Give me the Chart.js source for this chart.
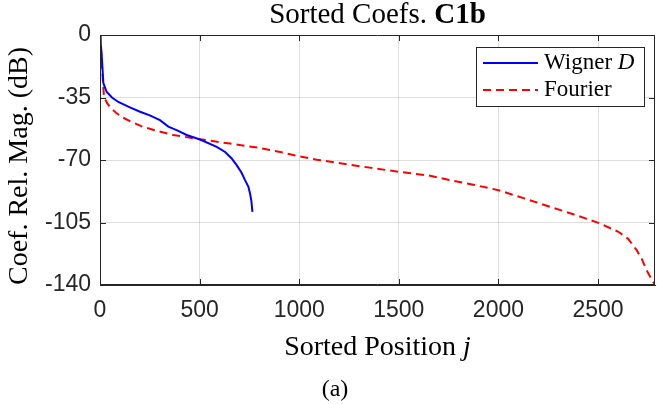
<!DOCTYPE html>
<html>
<head>
<meta charset="utf-8">
<script src="https://cdn.jsdelivr.net/npm/chart.js@4.4.0/dist/chart.umd.min.js"></script>
<style>
  body { margin: 0; background: #fff; }
  #wrap { width: 657px; height: 404px; }
</style>
</head>
<body>
<div id="wrap"><canvas id="coefchart" width="657" height="404"></canvas></div>
<script>
// sorted coefficient magnitudes
var wignerPos = [0, 3, 8, 17, 33, 60, 92, 150, 201, 250, 301, 343, 390, 435, 502, 586, 628, 660, 686, 710, 728, 745, 753, 760, 765];
var wignerDb  = [0, -4, -10.4, -27, -31.8, -35, -37.5, -40.5, -43, -45, -47.7, -51.3, -53.5, -56, -58.5, -62.6, -65.5, -69, -72.9, -77, -81.3, -85, -88.8, -93, -99];

var fourierPos = [0, 4, 8, 14, 20, 35, 50, 80, 109, 160, 217, 290, 368, 502, 653, 800, 920, 1000, 1088, 1250, 1498, 1657, 1757, 1880, 2000, 2130, 2259, 2380, 2502, 2602, 2650, 2694, 2720, 2744, 2770, 2786];
var fourierDb  = [0, -6, -14, -25, -34.7, -38, -40.3, -43.5, -45.9, -48.8, -51.5, -53.8, -56, -58.4, -60.8, -63.2, -65.9, -67.9, -69.8, -72.6, -76.6, -78.8, -81.3, -84, -86.9, -91.5, -96.2, -100.5, -105.2, -110.2, -114, -120.5, -125.5, -131.7, -137, -140];

var xTicks = [0, 500, 1000, 1500, 2000, 2500];
var yTicks = [0, -35, -70, -105, -140];
var xMax = 2786;

var serif = '"Liberation Serif", "DejaVu Serif", serif';
var sans = '"Liberation Sans", Arial, sans-serif';
var frameColor = '#262626';

function toPoints(xs, ys) {
    return xs.map(function (x, i) { return { x: x, y: ys[i] }; });
}

// draw "plain" + "styled" text as one centred string
function mixedText(ctx, parts, cx, y, size) {
    var widths = parts.map(function (p) {
        ctx.font = p[1] + ' ' + size + 'px ' + serif;
        return ctx.measureText(p[0]).width;
    });
    var total = widths.reduce(function (a, b) { return a + b; }, 0);
    var x = cx - total / 2;
    ctx.textAlign = 'left';
    parts.forEach(function (p, i) {
        ctx.font = p[1] + ' ' + size + 'px ' + serif;
        ctx.fillText(p[0], x, y);
        x += widths[i];
    });
}

// frame, inward ticks, title, axis labels, legend, caption (matlab look)
var decorations = {
    id: 'decorations',
    afterDraw: function (chart) {
        var ctx = chart.ctx;
        var a = chart.chartArea;
        var xs = chart.scales.x, ys = chart.scales.y;
        var tl = 6;
        ctx.save();

        ctx.strokeStyle = frameColor;
        ctx.lineWidth = 1;
        ctx.beginPath();
        ctx.rect(a.left + 0.5, a.top + 0.5, a.right - a.left - 1, a.bottom - a.top - 1);
        ctx.stroke();

        ctx.beginPath();
        xTicks.forEach(function (v) {
            var px = Math.round(xs.getPixelForValue(v)) + 0.5;
            ctx.moveTo(px, a.bottom); ctx.lineTo(px, a.bottom - tl);
            ctx.moveTo(px, a.top); ctx.lineTo(px, a.top + tl);
        });
        yTicks.forEach(function (v) {
            var py = Math.round(ys.getPixelForValue(v)) + 0.5;
            ctx.moveTo(a.left, py); ctx.lineTo(a.left + tl, py);
            ctx.moveTo(a.right, py); ctx.lineTo(a.right - tl, py);
        });
        ctx.stroke();

        var cx = (a.left + a.right) / 2;
        ctx.fillStyle = '#000';
        ctx.textBaseline = 'alphabetic';

        mixedText(ctx, [['Sorted Coefs. ', 'normal'], ['C1b', 'bold']], cx, 23, 29);
        mixedText(ctx, [['Sorted Position ', 'normal'], ['j', 'italic']], cx, 355, 28);

        // y axis title
        ctx.save();
        ctx.translate(27, 166);
        ctx.rotate(-Math.PI / 2);
        ctx.textAlign = 'center';
        ctx.font = '28px ' + serif;
        ctx.fillText('Coef. Rel. Mag. (dB)', 0, 0);
        ctx.restore();

        // caption
        ctx.textAlign = 'center';
        ctx.font = '24px ' + serif;
        ctx.fillText('(a)', 335, 396);

        // legend box
        var lx = 476, ly = 47, lw = 168, lh = 59;
        ctx.fillStyle = '#fff';
        ctx.fillRect(lx, ly, lw, lh);
        ctx.lineWidth = 1;
        ctx.strokeStyle = frameColor;
        ctx.strokeRect(lx + 0.5, ly + 0.5, lw, lh);

        ctx.lineWidth = 2;
        ctx.strokeStyle = '#0000ff';
        ctx.beginPath(); ctx.moveTo(483, 63); ctx.lineTo(538, 63); ctx.stroke();
        ctx.strokeStyle = '#ff0000';
        ctx.setLineDash([8, 5]);
        ctx.beginPath(); ctx.moveTo(483, 90); ctx.lineTo(538, 90); ctx.stroke();
        ctx.setLineDash([]);

        ctx.fillStyle = '#000';
        ctx.textAlign = 'left';
        ctx.font = '23px ' + serif;
        ctx.fillText('Wigner ', 544, 69);
        var ww = ctx.measureText('Wigner ').width;
        ctx.font = 'italic 23px ' + serif;
        ctx.fillText('D', 544 + ww, 69);
        ctx.font = '23px ' + serif;
        ctx.fillText('Fourier', 544, 96);

        ctx.restore();
    }
};

new Chart(document.getElementById('coefchart').getContext('2d'), {
    type: 'scatter',
    data: {
        datasets: [{
            label: 'Wigner D',
            data: toPoints(wignerPos, wignerDb),
            showLine: true,
            borderColor: '#0000ff',
            borderWidth: 2,
            pointRadius: 0,
            tension: 0
        }, {
            label: 'Fourier',
            data: toPoints(fourierPos, fourierDb),
            showLine: true,
            borderColor: '#ff0000',
            borderWidth: 2,
            borderDash: [8, 5],
            pointRadius: 0,
            tension: 0
        }]
    },
    options: {
        responsive: false,
        animation: false,
        layout: { padding: { top: 35, right: 2, left: 0, bottom: 0 } },
        plugins: {
            legend: { display: false },
            title: { display: false },
            tooltip: { enabled: false }
        },
        scales: {
            x: {
                type: 'linear',
                min: 0,
                max: xMax,
                afterFit: function (s) { s.height = 119; },
                afterBuildTicks: function (s) { s.ticks = xTicks.map(function (v) { return { value: v }; }); },
                grid: { color: 'rgba(0,0,0,0.13)', drawTicks: false },
                border: { color: frameColor },
                ticks: {
                    color: '#262626', padding: 12, maxRotation: 0,
                    font: { family: sans, size: 23 },
                    callback: function (v) { return String(v); }
                }
            },
            y: {
                min: -140,
                max: 0,
                afterFit: function (s) { s.width = 100; },
                afterBuildTicks: function (s) { s.ticks = yTicks.map(function (v) { return { value: v }; }); },
                grid: { color: 'rgba(0,0,0,0.13)', drawTicks: false },
                border: { color: frameColor },
                ticks: {
                    color: '#262626', padding: 9,
                    font: { family: sans, size: 23 },
                    callback: function (v) { return String(v); }
                }
            }
        }
    },
    plugins: [decorations]
});
</script>
</body>
</html>
